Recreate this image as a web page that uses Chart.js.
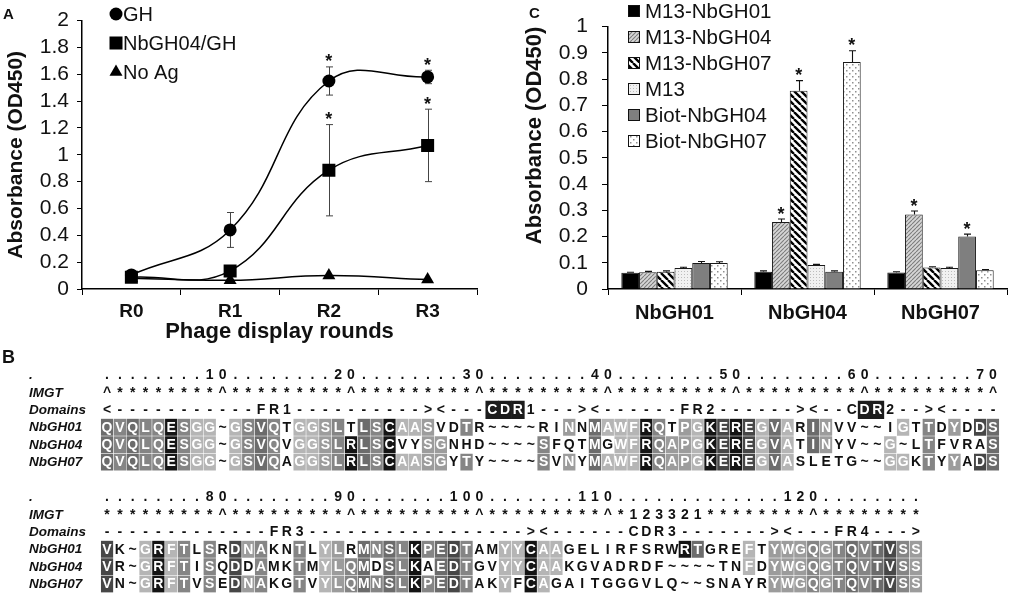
<!DOCTYPE html>
<html><head><meta charset="utf-8">
<script src="https://cdn.jsdelivr.net/npm/chart.js@4.4.1/dist/chart.umd.min.js"></script>
<style>
html,body{margin:0;padding:0;background:#fff;}
#fig{position:relative;width:1009px;height:596px;overflow:hidden;background:#fff;font-family:"Liberation Sans",Arial,sans-serif;}
#fig canvas{position:absolute;}
.tag{position:absolute;font-weight:bold;color:#111;line-height:1;}
</style></head><body>
<div id="fig">
<canvas id="chartA" width="495" height="345" style="left:0;top:0"></canvas>
<canvas id="chartC" width="509" height="345" style="left:500px;top:0"></canvas>
<canvas id="chartB" width="1009" height="236" style="left:0;top:360px"></canvas>
<div class="tag" style="left:3px;top:6px;font-size:15px">A</div>
<div class="tag" style="left:2px;top:348px;font-size:18px">B</div>
<div class="tag" style="left:529px;top:5px;font-size:15px">C</div>
</div>
<script>
const FONT = '"Liberation Sans", Arial, sans-serif';

/* ---------- Panel A data ---------- */
const roundLabels = ['R0', 'R1', 'R2', 'R3'];
const absTicksA = [0, 0.2, 0.4, 0.6, 0.8, 1, 1.2, 1.4, 1.6, 1.8, 2];
const ghMean = [0.105, 0.44, 1.55, 1.58];
const ghSd = [0.01, 0.13, 0.105, 0.05];
const ghSig = [false, false, true, true];
const nbGH04GHMean = [0.088, 0.135, 0.885, 1.07];
const nbGH04GHSd = [0.01, 0.03, 0.34, 0.27];
const nbGH04GHSig = [false, false, true, true];
const noAgMean = [0.08, 0.065, 0.10, 0.07];
const noAgSd = [0, 0, 0, 0];
const noAgSig = [false, false, false, false];

/* ---------- Panel C data ---------- */
const groupLabels = ['NbGH01', 'NbGH04', 'NbGH07'];
const absTicksC = [0, 0.1, 0.2, 0.3, 0.4, 0.5, 0.6, 0.7, 0.8, 0.9, 1];
const seriesNames = ['M13-NbGH01', 'M13-NbGH04', 'M13-NbGH07', 'M13', 'Biot-NbGH04', 'Biot-NbGH07'];
const m13NbGH01 = [0.062, 0.066, 0.063];
const m13NbGH04 = [0.064, 0.255, 0.284];
const m13NbGH07 = [0.066, 0.756, 0.082];
const m13Only = [0.080, 0.091, 0.080];
const biotNbGH04 = [0.099, 0.066, 0.200];
const biotNbGH07 = [0.099, 0.865, 0.071];
const m13NbGH01Sd = [0.002, 0.003, 0.003];
const m13NbGH04Sd = [0.003, 0.012, 0.013];
const m13NbGH07Sd = [0.003, 0.038, 0.003];
const m13OnlySd = [0.003, 0.003, 0.003];
const biotNbGH04Sd = [0.006, 0.003, 0.009];
const biotNbGH07Sd = [0.005, 0.043, 0.003];
const m13NbGH01Sig = [false, false, false];
const m13NbGH04Sig = [false, true, true];
const m13NbGH07Sig = [false, true, false];
const m13OnlySig = [false, false, false];
const biotNbGH04Sig = [false, false, true];
const biotNbGH07Sig = [false, true, false];

/* ---------- Panel B data (alignment) ---------- */
const rowLabels = ['.', 'IMGT', 'Domains', 'NbGH01', 'NbGH04', 'NbGH07'];
const rulerB1   = '........10........20........30........40........50........60........70';
const imgtB1    = '^********^*********^*********^*********^*********^*********^*********^';
const domainsB1 = '<-----------FR1----------><---CDR1---><------FR2------><--CDR2--><----';
const nbGH01B1  = 'QVQLQESGG~GSVQTGGSLTLSCAASVDTR~~~~RINNMAWFRQTPGKEREGVARINVV~~IGTTDYDDS';
const nbGH04B1  = 'QVQLQESGG~GSVQVGGSLRLSCVYSGNHD~~~~SFQTMGWFRQAPGKEREGVATINYV~~G~LTFVRAS';
const nbGH07B1  = 'QVQLQESGG~GSVQAGGSLRLSCAASGYTY~~~~SVNYMAWFRQAPGKEREGVASLETG~~GGKTYYADS';
const shade01B1 = '4343363110134301123043611200300000002041116302165651410420000010302054';
const shade04B1 = '4343363110134301123643600220000000300040116322165651410420000100300004';
const shade07B1 = '4343363110134301123643611220300000302041116322165651410000000110302054';
const rulerB2   = '........80........90.......100.......110.............120........';
const imgtB2    = '*********^*********^*********^*********^*123321********^********';
const domainsB2 = '-------------FR3-----------------><------CDR3-------><---FR4--->';
const nbGH01B2  = 'VK~GRFTLSRDNAKNTLYLRMNSLKPEDTAMYYCAAGELIRFSRWRTGREFTYWGQGTQVTVSS';
const nbGH04B2  = 'VR~GRFTISQDDAMKTMYLQMDSLKAEDTGVYYCAAKGVADRDF~~~~TNFDYWGQGTQVTVSS';
const nbGH07B2  = 'VN~GRFTVSEDNAKGTVYLQMNSLKPEDTAKYFCAGAITGGGVLQ~~SNAYRYWGQGTQVTVSS';
const shade01B2 = '5001613030523003012043436345300116110000000006400010222323434532';
const shade04B2 = '5001613030503003012340436045300116110000000000000010222323434532';
const shade07B2 = '5001613030523003012343436345300106100000000000000000222323434532';
const cdrBoxColsB1 = [30, 31, 32, 59, 60];
const alignColumns = rulerB1.split('').map((c, i) => String(i + 1));

const shadeColors = ['rgba(0,0,0,0)', '#b5b5b5', '#9c9c9c', '#858585', '#6c6c6c', '#474747', '#141414'];

/* ---------- plugins ---------- */
const errorBarPlugin = {
  id: 'errorBars',
  draw(chart, o) {
    const ctx = chart.ctx, ys = chart.scales.y;
    ctx.save();
    ctx.strokeStyle = o.color; ctx.lineWidth = o.width;
    chart.data.datasets.forEach((ds, di) => {
      if (!ds.sd) return;
      const meta = chart.getDatasetMeta(di);
      meta.data.forEach((el, i) => {
        const v = ds.data[i], e = ds.sd[i];
        if (v == null || !e) return;
        const x = Math.round(el.x) + 0.5;
        const top = ys.getPixelForValue(v + e);
        const bot = o.upOnly ? ys.getPixelForValue(v) : ys.getPixelForValue(v - e);
        ctx.beginPath();
        ctx.moveTo(x, top); ctx.lineTo(x, bot);
        ctx.moveTo(x - o.cap, top); ctx.lineTo(x + o.cap, top);
        if (!o.upOnly) { ctx.moveTo(x - o.cap, bot); ctx.lineTo(x + o.cap, bot); }
        ctx.stroke();
      });
    });
    ctx.restore();
  },
  beforeDatasetsDraw(chart, a, o) { if (o.under) this.draw(chart, o); },
  afterDatasetsDraw(chart, a, o) { if (!o.under) this.draw(chart, o); }
};

const sigStarPlugin = {
  id: 'sigStars',
  afterDatasetsDraw(chart, a, o) {
    const ctx = chart.ctx, ys = chart.scales.y;
    ctx.save();
    ctx.font = 'bold ' + o.size + 'px ' + FONT;
    ctx.fillStyle = '#111'; ctx.textAlign = 'center'; ctx.textBaseline = 'alphabetic';
    chart.data.datasets.forEach((ds, di) => {
      if (!ds.sig) return;
      const meta = chart.getDatasetMeta(di);
      meta.data.forEach((el, i) => {
        if (!ds.sig[i]) return;
        const top = ys.getPixelForValue(ds.data[i] + (ds.sd ? ds.sd[i] : 0));
        ctx.fillText('*', el.x, top - o.gap + 0.56 * o.size);
      });
    });
    ctx.restore();
  }
};

const innerLegendPlugin = {
  id: 'innerLegend',
  afterDraw(chart, a, o) {
    const ctx = chart.ctx;
    ctx.save();
    ctx.font = o.size + 'px ' + FONT;
    ctx.textBaseline = 'middle'; ctx.textAlign = 'left';
    chart.data.datasets.forEach((ds, i) => {
      const y = o.y0 + i * o.dy;
      if (o.kind === 'point') {
        ctx.fillStyle = '#000'; ctx.strokeStyle = '#000';
        Chart.helpers.drawPoint(ctx, { pointStyle: ds.pointStyle, radius: ds.legendRadius, borderWidth: 0, rotation: 0 }, o.markerX, y);
      } else {
        ctx.fillStyle = ds.backgroundColor;
        ctx.fillRect(o.markerX, y - o.box / 2, o.box, o.box);
        ctx.strokeStyle = '#111'; ctx.lineWidth = 1;
        ctx.strokeRect(o.markerX + 0.5, y - o.box / 2 + 0.5, o.box - 1, o.box - 1);
      }
      ctx.fillStyle = '#111';
      ctx.fillText(ds.label, o.textX, y + 1);
    });
    ctx.restore();
  }
};

const alignTextPlugin = {
  id: 'alignText',
  afterDatasetsDraw(chart, a, o) {
    const ctx = chart.ctx, xs = chart.scales.x, ys = chart.scales.y;
    ctx.save();
    ctx.textBaseline = 'middle';
    o.rows.forEach(r => {
      const y = ys.getPixelForValue(r.row) + 0.5;
      ctx.font = 'italic bold 13.5px ' + FONT;
      ctx.textAlign = 'left'; ctx.fillStyle = '#111';
      ctx.fillText(r.label, o.labelX, y);
      ctx.font = 'bold 14px ' + FONT;
      ctx.textAlign = 'center';
      for (let i = 0; i < r.text.length; i++) {
        const ch = r.text[i];
        const light = r.shade ? r.shade[i] !== '0' : (r.boxed ? r.boxed.includes(i) : false);
        ctx.fillStyle = light ? '#fff' : '#111';
        ctx.fillText(ch, xs.getPixelForValue(i), y);
      }
    });
    ctx.restore();
  }
};

/* ---------- patterns ---------- */
function makePattern(kind) {
  const c = document.createElement('canvas');
  const x = c.getContext('2d');
  if (kind === 'solidBlack') return '#000000';
  if (kind === 'solidGray') return '#7f7f7f';
  if (kind === 'fineHatch') {
    const s = 4; c.width = c.height = s;
    x.fillStyle = '#d6d6d6'; x.fillRect(0, 0, s, s);
    x.strokeStyle = '#7c7c7c'; x.lineWidth = 1.1;
    x.beginPath();
    for (const k of [-s, 0, s]) { x.moveTo(k, s); x.lineTo(k + s, 0); }
    x.stroke();
  } else if (kind === 'wideStripe') {
    const s = 7; c.width = c.height = s;
    x.fillStyle = '#ffffff'; x.fillRect(0, 0, s, s);
    x.strokeStyle = '#000'; x.lineWidth = 2.4;
    x.beginPath();
    for (const k of [-s, 0, s]) { x.moveTo(k, 0); x.lineTo(k + s, s); }
    x.stroke();
  } else if (kind === 'lightDots') {
    const s = 3; c.width = c.height = s;
    x.fillStyle = '#f1f1f1'; x.fillRect(0, 0, s, s);
    x.fillStyle = '#bdbdbd'; x.fillRect(1, 1, 1, 1);
  } else if (kind === 'sparseDots') {
    const s = 6; c.width = c.height = s;
    x.fillStyle = '#ffffff'; x.fillRect(0, 0, s, s);
    x.fillStyle = '#8f8f8f'; x.fillRect(1, 1, 1.5, 1.5); x.fillRect(4, 4, 1.5, 1.5);
  }
  return x.createPattern(c, 'repeat');
}
const patternKinds = ['solidBlack', 'fineHatch', 'wideStripe', 'lightDots', 'solidGray', 'sparseDots'];

/* ---------- Chart A ---------- */
function mkLine(label, data, sd, sig, style, r) {
  return {
    label, data, sd, sig,
    borderColor: '#000', borderWidth: 1.5, backgroundColor: '#000',
    pointStyle: style, pointRadius: r, pointHoverRadius: r, legendRadius: r,
    pointBackgroundColor: '#000', pointBorderColor: '#000', pointBorderWidth: 0,
    tension: 0.42
  };
}
const axisFont = (size, bold) => ({ family: FONT, size, weight: bold ? 'bold' : 'normal' });

new Chart(document.getElementById('chartA'), {
  type: 'line',
  data: {
    labels: roundLabels,
    datasets: [
      mkLine('GH', ghMean, ghSd, ghSig, 'circle', 6.5),
      mkLine('NbGH04/GH', nbGH04GHMean, nbGH04GHSd, nbGH04GHSig, 'rect', 9.2),
      mkLine('No Ag', noAgMean, noAgSd, noAgSig, 'triangle', 7.5)
    ]
  },
  options: {
    responsive: false, animation: false, devicePixelRatio: 1,
    layout: { padding: { left: 0, right: 18, top: 12, bottom: 0 } },
    plugins: {
      legend: { display: false }, tooltip: { enabled: false },
      errorBars: { color: '#444', width: 1, cap: 3.5, upOnly: false, under: true },
      sigStars: { size: 18, gap: 9.5 },
      innerLegend: { kind: 'point', markerX: 116, textX: 123, y0: 14, dy: 29, size: 20 }
    },
    scales: {
      x: {
        offset: true,
        grid: { offset: true, drawOnChartArea: false, tickLength: 6, tickColor: '#000', color: '#000' },
        border: { color: '#000', width: 1.5 },
        ticks: { color: '#111', font: axisFont(19, true), padding: 5 },
        title: { display: true, text: 'Phage display rounds', color: '#111', font: axisFont(22, true), padding: { top: 0, bottom: 0 } },
        afterFit(s) { s.height = 56; }
      },
      y: {
        min: 0, max: 2,
        afterBuildTicks(s) { s.ticks = absTicksA.map(v => ({ value: v })); },
        grid: { drawOnChartArea: false, tickLength: 5, tickColor: '#000', color: '#000' },
        border: { color: '#000', width: 1.5 },
        ticks: { color: '#111', font: axisFont(21, false), padding: 8, autoSkip: false, callback: v => String(+Number(v).toFixed(2)) },
        title: { display: true, text: 'Absorbance (OD450)', color: '#111', font: axisFont(21, true), padding: { top: 4, bottom: 0 } },
        afterFit(s) { s.width = 82; }
      }
    }
  },
  plugins: [errorBarPlugin, sigStarPlugin, innerLegendPlugin]
});

/* ---------- Chart C ---------- */
const seriesMeans = [m13NbGH01, m13NbGH04, m13NbGH07, m13Only, biotNbGH04, biotNbGH07];
const seriesSds = [m13NbGH01Sd, m13NbGH04Sd, m13NbGH07Sd, m13OnlySd, biotNbGH04Sd, biotNbGH07Sd];
const seriesSig = [m13NbGH01Sig, m13NbGH04Sig, m13NbGH07Sig, m13OnlySig, biotNbGH04Sig, biotNbGH07Sig];

new Chart(document.getElementById('chartC'), {
  type: 'bar',
  data: {
    labels: groupLabels,
    datasets: seriesNames.map((n, i) => ({
      label: n, data: seriesMeans[i], sd: seriesSds[i], sig: seriesSig[i],
      backgroundColor: makePattern(patternKinds[i]),
      borderColor: '#1a1a1a', borderWidth: 1, borderSkipped: 'start',
      categoryPercentage: 0.8, barPercentage: 1
    }))
  },
  options: {
    responsive: false, animation: false, devicePixelRatio: 1,
    layout: { padding: { left: 0, right: 2, top: 14, bottom: 0 } },
    plugins: {
      legend: { display: false }, tooltip: { enabled: false },
      errorBars: { color: '#111', width: 1.1, cap: 3.5, upOnly: true, under: false },
      sigStars: { size: 18, gap: 9.5 },
      innerLegend: { kind: 'box', markerX: 128, textX: 145, y0: 11, dy: 26, size: 20.5, box: 12 }
    },
    scales: {
      x: {
        grid: { offset: true, drawOnChartArea: false, tickLength: 6, tickColor: '#000', color: '#000' },
        border: { color: '#000', width: 1.5 },
        ticks: { color: '#111', font: axisFont(20, true), padding: 6 },
        afterFit(s) { s.height = 56; }
      },
      y: {
        min: 0, max: 1,
        afterBuildTicks(s) { s.ticks = absTicksC.map(v => ({ value: v })); },
        grid: { drawOnChartArea: false, tickLength: 6, tickColor: '#000', color: '#000' },
        border: { color: '#000', width: 1.5 },
        ticks: { color: '#111', font: axisFont(21, false), padding: 14, autoSkip: false, callback: v => String(+Number(v).toFixed(2)) },
        title: { display: true, text: 'Absorbance (OD450)', align: 'end', color: '#111', font: axisFont(22, true), padding: { top: 22, bottom: 0 } },
        afterFit(s) { s.width = 108; }
      }
    }
  },
  plugins: [errorBarPlugin, sigStarPlugin, innerLegendPlugin]
});

/* ---------- Chart B (alignment) ---------- */
function cellDataset(rowIdx, shadeStr) {
  const codes = shadeStr.split('');
  return {
    label: 'row' + rowIdx,
    data: codes.map(c => (c === '0' ? null : [rowIdx - 0.5, rowIdx + 0.5])),
    backgroundColor: codes.map(c => shadeColors[+c]),
    borderColor: 'rgba(255,255,255,0.35)', borderWidth: 0.6, borderSkipped: false,
    grouped: false, barPercentage: 1, categoryPercentage: 1
  };
}
const cdrBoxData = alignColumns.map((c, i) => (cdrBoxColsB1.includes(i) ? [1.5, 2.5] : null));

const alignRowsText = [
  { row: 0, label: rowLabels[0], text: rulerB1 },
  { row: 1, label: rowLabels[1], text: imgtB1 },
  { row: 2, label: rowLabels[2], text: domainsB1, boxed: cdrBoxColsB1 },
  { row: 3, label: rowLabels[3], text: nbGH01B1, shade: shade01B1 },
  { row: 4, label: rowLabels[4], text: nbGH04B1, shade: shade04B1 },
  { row: 5, label: rowLabels[5], text: nbGH07B1, shade: shade07B1 },
  { row: 7, label: rowLabels[0], text: rulerB2 },
  { row: 8, label: rowLabels[1], text: imgtB2 },
  { row: 9, label: rowLabels[2], text: domainsB2 },
  { row: 10, label: rowLabels[3], text: nbGH01B2, shade: shade01B2 },
  { row: 11, label: rowLabels[4], text: nbGH04B2, shade: shade04B2 },
  { row: 12, label: rowLabels[5], text: nbGH07B2, shade: shade07B2 }
];

new Chart(document.getElementById('chartB'), {
  type: 'bar',
  data: {
    labels: alignColumns,
    datasets: [
      cellDataset(3, shade01B1), cellDataset(4, shade04B1), cellDataset(5, shade07B1),
      cellDataset(10, shade01B2), cellDataset(11, shade04B2), cellDataset(12, shade07B2),
      { label: 'cdr', data: cdrBoxData, backgroundColor: '#1c1c1c', borderWidth: 0, grouped: false, barPercentage: 1, categoryPercentage: 1 }
    ]
  },
  options: {
    responsive: false, animation: false, devicePixelRatio: 1,
    layout: { padding: { left: 100.6, right: 9.6, top: 6.3, bottom: 3.25 } },
    plugins: {
      legend: { display: false }, tooltip: { enabled: false },
      alignText: { rows: alignRowsText, labelX: 29 }
    },
    scales: {
      x: { type: 'category', display: false, offset: true },
      y: { type: 'linear', display: false, min: -0.5, max: 12.5, reverse: true }
    }
  },
  plugins: [alignTextPlugin]
});
</script>
</body></html>
